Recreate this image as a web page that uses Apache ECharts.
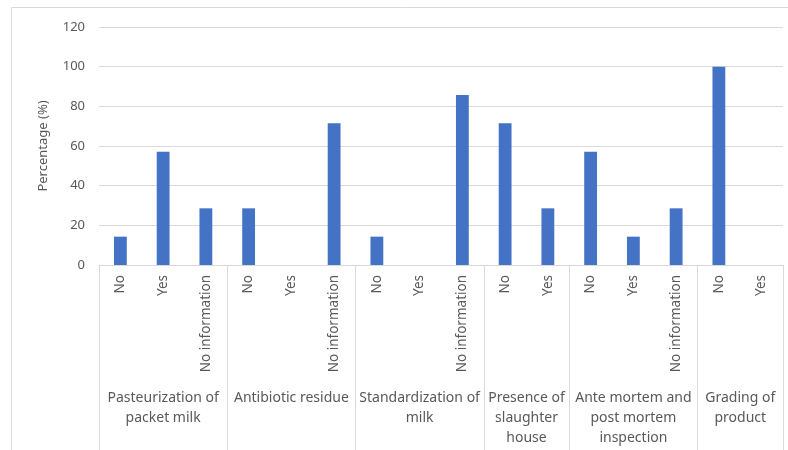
<!DOCTYPE html>
<html>
<head>
<meta charset="utf-8">
<script src="https://cdn.jsdelivr.net/npm/echarts@6/dist/echarts.min.js"></script>
<style>
  html, body { margin: 0; padding: 0; background: #fff; }
  #chart { width: 788px; height: 450px; }
</style>
</head>
<body>
<div id="chart"></div>
<script>
// Responses per practice (first-level categories)
const categories = [
  'No', 'Yes', 'No information',
  'No', 'Yes', 'No information',
  'No', 'Yes', 'No information',
  'No', 'Yes',
  'No', 'Yes', 'No information',
  'No', 'Yes'
];
// Percentage of respondents for each response
const values = [
  14.29, 57.14, 28.57,
  28.57, 0, 71.43,
  14.29, 0, 85.71,
  71.43, 28.57,
  57.14, 14.29, 28.57,
  100, 0
];
// Second-level groups and how many responses each one spans
const groups = [
  'Pasteurization of\npacket milk',
  'Antibiotic residue',
  'Standardization of\nmilk',
  'Presence of\nslaughter\nhouse',
  'Ante mortem and\npost mortem\ninspection',
  'Grading of\nproduct'
];
const groupSizes = [3, 3, 3, 2, 3, 2];
const yTicks = { min: 0, max: 120, step: 20 };

// Group boundaries and centres in category units
const bounds = [0];
const centres = [];
groupSizes.forEach(function (n) {
  const start = bounds[bounds.length - 1];
  centres.push(start + n / 2);
  bounds.push(start + n);
});

const FONT = 'Noto Sans';
const TXT = '#595959';
const LINE = '#d9d9d9';

const chart = echarts.init(document.getElementById('chart'), null, { renderer: 'canvas' });
chart.setOption({
  animation: false,
  backgroundColor: '#fff',
  textStyle: { fontFamily: FONT },
  graphic: [{
    type: 'rect',
    shape: { x: 11.5, y: 7.5, width: 800, height: 500 },
    style: { fill: null, stroke: LINE, lineWidth: 1 },
    silent: true,
    z: -1
  }],
  grid: { left: 99, right: 5, top: 27, bottom: 185, outerBoundsMode: 'none', containLabel: false },
  xAxis: [{
    type: 'category',
    data: categories,
    axisLine: { show: true, lineStyle: { color: LINE } },
    axisTick: { show: false },
    axisLabel: { rotate: 90, margin: 10, color: TXT, fontSize: 13.5, fontFamily: FONT, interval: 0 }
  }, {
    type: 'value',
    position: 'bottom',
    min: 0,
    max: bounds[bounds.length - 1],
    axisLine: { show: false },
    splitLine: { show: false },
    axisTick: { show: true, customValues: bounds, length: 190, lineStyle: { color: LINE } },
    axisLabel: {
      customValues: centres,
      margin: 123,
      color: TXT,
      fontSize: 14,
      fontFamily: FONT,
      lineHeight: 20,
      align: 'center',
      formatter: function (v) {
        const i = centres.indexOf(v);
        return i >= 0 ? groups[i] : '';
      }
    }
  }],
  yAxis: {
    type: 'value',
    min: yTicks.min,
    max: yTicks.max,
    interval: yTicks.step,
    name: 'Percentage (%)',
    nameLocation: 'middle',
    nameGap: 49,
    nameTextStyle: { color: TXT, fontSize: 13, fontFamily: FONT },
    axisLine: { show: false },
    axisTick: { show: false },
    axisLabel: { color: TXT, fontSize: 13, margin: 14, fontFamily: FONT },
    splitLine: { lineStyle: { color: LINE } }
  },
  series: [{
    type: 'bar',
    xAxisIndex: 0,
    data: values,
    barWidth: '30%',
    itemStyle: { color: '#4472C4' }
  }]
});
</script>
</body>
</html>
